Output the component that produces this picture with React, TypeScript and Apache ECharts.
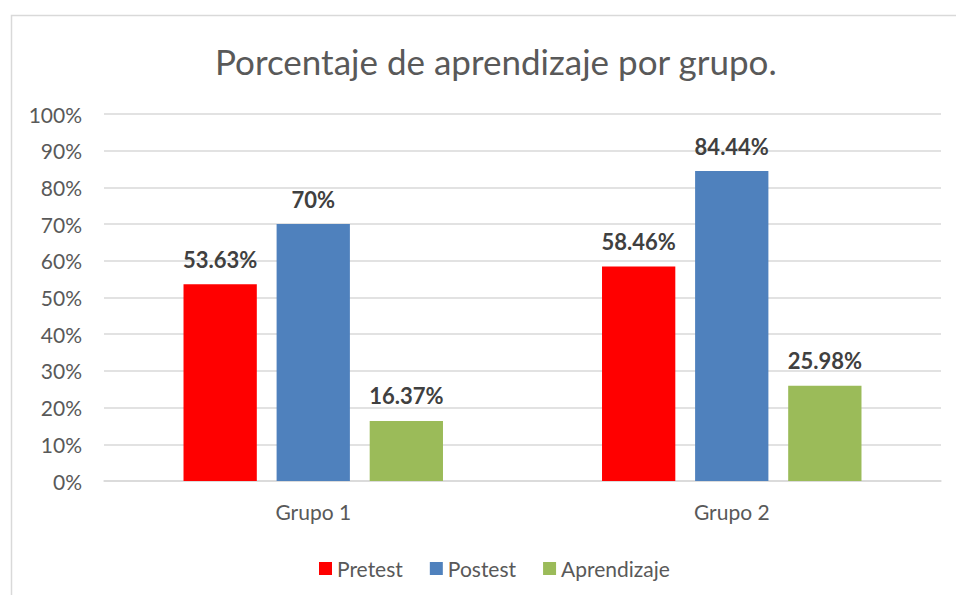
import React, { useEffect, useRef } from "react";
import * as echarts from "echarts";

const categories = ["Grupo 1", "Grupo 2"];
const pretest = [53.63, 58.46];
const postest = [70, 84.44];
const aprendizaje = [16.37, 25.98];
const seriesNames = ["Pretest", "Postest", "Aprendizaje"];
const title = "Porcentaje de aprendizaje por grupo.";

const FONT = "Lato, 'Open Sans', sans-serif";
const GREY = "#595959";

export default function App() {
  const ref = useRef<HTMLDivElement>(null);
  useEffect(() => {
    if (!ref.current) return;
    const chart = echarts.init(ref.current, null, { renderer: "svg" });
    const label = {
      show: true,
      position: "top",
      distance: 14,
      fontSize: 22,
      fontWeight: "bold",
      color: "#404040",
      fontFamily: FONT,
      formatter: (p: any) => `${p.value}%`,
    };
    chart.setOption({
      animation: false,
      backgroundColor: "#ffffff",
      textStyle: { fontFamily: FONT },
      title: {
        text: title,
        left: 210,
        top: 38,
        textStyle: { fontSize: 35, fontWeight: "normal", color: GREY, fontFamily: FONT },
      },
      graphic: [
        {
          type: "rect",
          shape: { x: 11.5, y: 15.5, width: 1000, height: 700 },
          style: { fill: "none", stroke: "#d9d9d9", lineWidth: 1.5 },
          silent: true,
        },
      ],
      legend: {
        data: seriesNames,
        left: 314,
        top: 553,
        icon: "rect",
        itemWidth: 13,
        itemHeight: 13,
        itemGap: 27,
        textStyle: { fontSize: 21, color: GREY, fontFamily: FONT },
      },
      grid: { left: 104, right: 15, top: 114, bottom: 114 },
      xAxis: {
        type: "category",
        data: categories,
        axisLine: { lineStyle: { color: "#d9d9d9", width: 1.5 } },
        axisTick: { show: false },
        axisLabel: { fontSize: 21, color: GREY, margin: 20, fontFamily: FONT },
      },
      yAxis: {
        type: "value",
        min: 0,
        max: 100,
        interval: 10,
        axisLine: { show: false },
        axisTick: { show: false },
        splitLine: { lineStyle: { color: "#d9d9d9", width: 1.5 } },
        axisLabel: { fontSize: 21, color: GREY, margin: 22, formatter: "{value}%", fontFamily: FONT },
      },
      series: [
        { name: seriesNames[0], type: "bar", data: pretest, itemStyle: { color: "#FF0000" }, barGap: "27%", barCategoryGap: "38%", label },
        { name: seriesNames[1], type: "bar", data: postest, itemStyle: { color: "#4F81BD" }, barGap: "27%", barCategoryGap: "38%", label },
        { name: seriesNames[2], type: "bar", data: aprendizaje, itemStyle: { color: "#9BBB59" }, barGap: "27%", barCategoryGap: "38%", label },
      ],
    });
    return () => chart.dispose();
  }, []);
  return (
    <div
      ref={ref}
      style={{ position: "fixed", left: 0, top: 0, width: 956, height: 595 }}
    />
  );
}
